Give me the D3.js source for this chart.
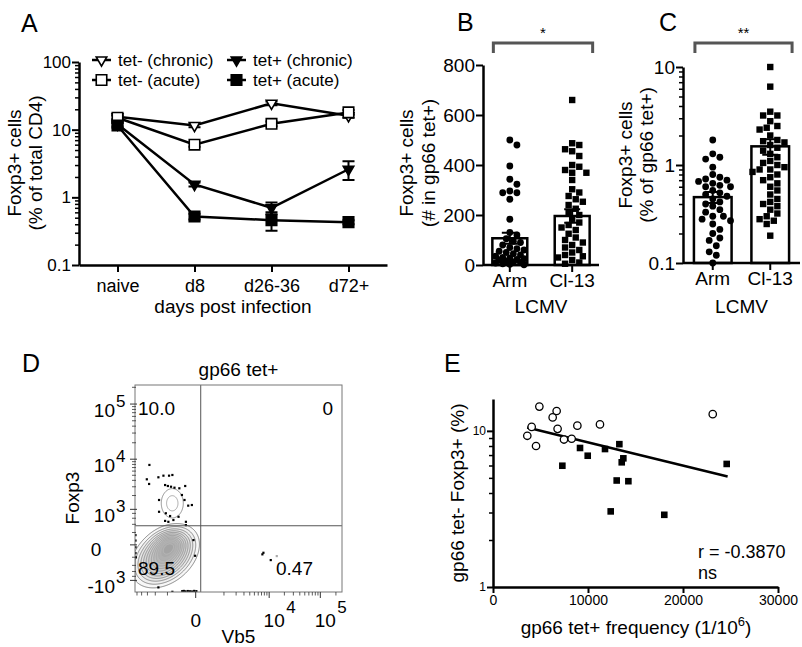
<!DOCTYPE html>
<html><head><meta charset="utf-8">
<script src="https://cdn.jsdelivr.net/npm/d3@7"></script>
<style>
body{margin:0;background:#fff}
svg{display:block;font-family:"Liberation Sans",Arial,Helvetica,sans-serif}
</style></head><body>
<svg id="c" width="802" height="647"></svg>
<script>
// ================= DATA =================
// Panel A
const aCategories = ["naive","d8","d26-36","d72+"];
const aSeriesNames = ["tet- (chronic)","tet- (acute)","tet+ (chronic)","tet+ (acute)"];
const aTetNegChronic = [15.5, 11.5, 24.5, 16];
const aTetNegAcute   = [15, 6.0, 12.2, 18];
const aTetPosChronic = [12, 1.55, 0.70, 2.6];
const aTetPosAcute   = [11.5, 0.52, 0.46, 0.43];
const aSemTetNegChronic = [1.0, 0.6, 1.5, 1.0];
const aSemTetNegAcute   = [1.0, 0.4, 1.0, 1.5];
const aSemTetPosChronic = [0.8, 0.1, 0.14, 0.8];
const aSemTetPosAcute   = [0.8, 0.05, 0.14, 0.03];
const aYTicks = [0.1, 1, 10, 100];

// Panel B
const bGroups = ["Arm","Cl-13"];
const bMeans = [107, 196];
const bSem = [22, 27];
const bArm = [500,480,396,343,323,296,289,289,263,183,130,120,105,95,90,80,70,65,60,55,50,45,40,35,30,28,25,22,20,15,12,10,8,5,3,1];
const bCl13 = [660,487,480,463,455,436,400,393,380,369,369,340,303,290,276,263,253,240,225,210,200,185,170,160,150,140,125,110,100,90,80,70,60,50,40,35,30,20,10,5];
const bYTicks = [0,200,400,600,800];

// Panel C
const cGroups = ["Arm","Cl-13"];
const cMeans = [0.47, 1.55];
const cSem = [0.06, 0.28];
const cArm = [1.8,1.3,1.15,1.2,0.95,0.8,0.75,0.72,0.7,0.68,0.65,0.62,0.6,0.6,0.55,0.52,0.5,0.48,0.45,0.42,0.4,0.38,0.35,0.33,0.3,0.3,0.28,0.27,0.25,0.22,0.2,0.18,0.17,0.15,0.13,0.12,0.1];
const cCl13 = [10,6.3,3.5,3.2,3.2,2.8,2.5,2.4,2.3,2.0,1.8,1.75,1.7,1.6,1.5,1.4,1.3,1.2,1.1,1.05,1.0,0.95,0.9,0.9,0.85,0.8,0.75,0.7,0.65,0.6,0.55,0.5,0.45,0.42,0.4,0.38,0.35,0.32,0.3,0.28,0.27,0.25,0.19];
const cYTicks = [0.1, 1, 10];

// Panel D (flow cytometry: Vb5 vs Foxp3)
const dTitle = "gp66 tet+";
const dQuadrants = ["10.0","0","89.5","0.47"];
const dGate = {vb5: 100, foxp3: 360};
const dYTicks = [{v:100000,e:"5"},{v:10000,e:"4"},{v:1000,e:"3"},{v:0,e:null},{v:-1000,e:"3",neg:true}];
const dXTicks = [{v:0,e:null},{v:10000,e:"4"},{v:100000,e:"5"}];
const dPopMain = [
  {vb5:-1160, foxp3:-175, sx:0.6, sy:0.52, rho:0.35, w:1.0},
  {vb5:-850,  foxp3:0,    sx:0.38, sy:0.28, rho:0.2,  w:0.6}
];
const dPopSmall = [{vb5:-730, foxp3:1370, sx:0.25, sy:0.31, rho:0.0, w:1.0}];
const dMainLevels = [0.03,0.06,0.1,0.15,0.21,0.28,0.36,0.45,0.54,0.63,0.72,0.81,0.9];
const dSmallLevels = [0.15,0.6];
const dEventsVb5 = [-2730,-3110,-2770,-1700,-1280,-910,-730,-1160,-980,-800,-630,-430,-240,-1640,-1640,-1110,-850,-340,-260,-160,-76,-1160,-950,-680,-220,-220,-460,7620,7260,10700,-44,-12,-1700,-730,-330,-280,-230,-170,-115,-70,-30,10,-5400,-5400,-5400,-5400,-5300];
const dEventsFoxp3 = [7860,4210,3420,4600,4940,4940,5090,3260,3120,3020,2890,2810,3120,1620,880,810,690,2060,1620,1220,1260,510,480,540,480,380,660,-114,-142,-260,67,-169,-1430,-1775,-1720,-1700,-1740,-1710,-1730,-1750,-1700,-1720,150,60,-30,-120,-200];
const dGreyEventsVb5 = [14100];
const dGreyEventsFoxp3 = [-175];

// Panel E
const eOpenX = [3610,4070,4530,4880,6280,6700,6800,7470,8280,8880,11260,23130];
const eOpenY = [9.3,10.6,8.0,14.3,12.2,13.4,10.3,8.8,8.9,10.8,11.0,12.8];
const eFilledX = [7300,9160,9970,11790,13300,13720,13550,13020,14250,12390,18030,24600];
const eFilledY = [5.98,7.77,6.93,7.65,8.22,6.67,6.29,4.81,4.76,3.05,2.90,6.14];
const eFitX = [3600, 24700];
const eFitY = [10.5, 5.1];
const eXTicks = [0,10000,20000,30000];
const eYTicks = [1,10];
const eStats = ["r = -0.3870","ns"];

// ================= DRAW =================
const svg = d3.select("#c");
const AX = 2.5;

function styleAxis(g, fs){
  g.selectAll("path.domain").attr("stroke","#000").attr("stroke-width",AX);
  g.selectAll(".tick line").attr("stroke","#000").attr("stroke-width",2);
  g.selectAll(".tick text").attr("font-size",fs).attr("fill","#000").attr("font-family","Liberation Sans, Arial, sans-serif");
}
function minorLog(lo, hi){
  const out=[];
  for(let e=Math.floor(Math.log10(lo)); e<Math.log10(hi); e++){
    for(let m=2;m<=9;m++){const v=m*Math.pow(10,e); if(v>lo && v<hi) out.push(v);}
  }
  return out;
}
function panelLabel(t,x,y){
  svg.append("text").attr("x",x).attr("y",y).attr("font-size",25).text(t);
}
function rotLabel(t,x,y,fs){
  svg.append("text").attr("transform",`translate(${x},${y}) rotate(-90)`).attr("text-anchor","middle").attr("font-size",fs).text(t);
}

// ---------- Panel A ----------
panelLabel("A",21,32);
const xA = d3.scalePoint().domain(aCategories).range([79,387]).padding(0.5);
const yA = d3.scaleLog().domain([0.1,100]).range([265,62]);
{
  const gy = svg.append("g").attr("transform","translate(79,0)")
    .call(d3.axisLeft(yA).tickValues(aYTicks).tickFormat(d=>String(d)).tickSize(7).tickSizeOuter(0));
  styleAxis(gy,17);
  gy.selectAll(".tick text").attr("x",-8);
  svg.append("g").attr("transform","translate(79,0)")
    .call(d3.axisLeft(yA).tickValues(minorLog(0.1,100)).tickFormat("").tickSize(4).tickSizeOuter(0))
    .call(g=>{g.select(".domain").remove(); g.selectAll("line").attr("stroke","#000").attr("stroke-width",1.5);});
  const gx = svg.append("g").attr("transform","translate(0,265)")
    .call(d3.axisBottom(xA).tickSize(7).tickSizeOuter(0));
  styleAxis(gx,18);
  gx.selectAll(".tick text").attr("dy","0.95em");
  svg.append("text").attr("x",233).attr("y",313).attr("text-anchor","middle").attr("font-size",19).text("days post infection");
  rotLabel("Foxp3+ cells",21,163,19);
  rotLabel("(% of total CD4)",42,163,19);

  const series = [
    {name:aSeriesNames[0], v:aTetNegChronic, s:aSemTetNegChronic, sym:"tri", fill:"#fff"},
    {name:aSeriesNames[1], v:aTetNegAcute,   s:aSemTetNegAcute,   sym:"sq",  fill:"#fff"},
    {name:aSeriesNames[2], v:aTetPosChronic, s:aSemTetPosChronic, sym:"tri", fill:"#000"},
    {name:aSeriesNames[3], v:aTetPosAcute,   s:aSemTetPosAcute,   sym:"sq",  fill:"#000"}
  ];
  const symPath = (sym)=> sym==="tri" ? d3.symbol(d3.symbolTriangle,48)() : d3.symbol(d3.symbolSquare,110)();
  const line = d3.line().x((d,i)=>xA(aCategories[i])).y(d=>yA(d));
  series.forEach(s=>{
    svg.append("path").attr("d",line(s.v)).attr("fill","none").attr("stroke","#000").attr("stroke-width",2.5);
    s.v.forEach((v,i)=>{
      const x=xA(aCategories[i]);
      const y1=yA(v+s.s[i]), y0=yA(Math.max(v-s.s[i],0.101));
      svg.append("path").attr("d",`M${x},${y0}V${y1}M${x-6},${y0}H${x+6}M${x-6},${y1}H${x+6}`).attr("stroke","#000").attr("stroke-width",2).attr("fill","none");
    });
  });
  series.forEach(s=>{
    s.v.forEach((v,i)=>{
      svg.append("path").attr("d",symPath(s.sym))
        .attr("transform",`translate(${xA(aCategories[i])},${yA(v)})${s.sym==="tri"?" rotate(180)":""}`)
        .attr("fill",s.fill).attr("stroke","#000").attr("stroke-width",1.6);
    });
  });
  const lg = [{x:92,y:60},{x:92,y:80},{x:227,y:60},{x:227,y:80}];
  series.forEach((s,i)=>{
    const p=lg[i];
    svg.append("line").attr("x1",p.x).attr("x2",p.x+19).attr("y1",p.y).attr("y2",p.y).attr("stroke","#000").attr("stroke-width",2.5);
    svg.append("path").attr("d",symPath(s.sym))
      .attr("transform",`translate(${p.x+9.5},${p.y})${s.sym==="tri"?" rotate(180)":""}`)
      .attr("fill",s.fill).attr("stroke","#000").attr("stroke-width",1.6);
    svg.append("text").attr("x",p.x+26).attr("y",p.y+6).attr("font-size",17).text(s.name);
  });
}

// ---------- swarm helper (bounded beeswarm) ----------
function swarm(vals, ys, r, maxHalf){
  const pts = vals.map(v=>({v, y:ys(v), x:0})).sort((a,b)=>d3.descending(a.v,b.v));
  const placed=[]; const d=2*r+0.5;
  const cands=[0]; for(let k=1;k*d*0.5<=maxHalf;k++){cands.push(k*d*0.5,-k*d*0.5);}
  for(const p of pts){
    let best=0, bestD=-1, found=false;
    for(const off of cands){
      const md = placed.length? d3.min(placed,q=>Math.hypot(q.x-off,q.y-p.y)) : Infinity;
      if(md>=d){p.x=off; found=true; break;}
      if(md>bestD){bestD=md; best=off;}
    }
    if(!found) p.x=best;
    placed.push(p);
  }
  return pts;
}

function barPanel(opt){
  const {x0,x1,y,groups,means,sem,data,ticks,tickFmt,minor,pi,po} = opt;
  const xb = d3.scaleBand().domain(groups).range([x0,x1]).paddingInner(pi).paddingOuter(po);
  const bw = xb.bandwidth();
  groups.forEach((g,i)=>{
    const cx = xb(g)+bw/2;
    svg.append("rect").attr("x",xb(g)).attr("y",y(means[i])).attr("width",bw).attr("height",y.range()[0]-y(means[i]))
      .attr("fill","#fff").attr("stroke","#000").attr("stroke-width",2.5);
    const pts = swarm(data[i], y, 3.3, bw/2-1);
    pts.forEach(p=>{
      if(i===0) svg.append("circle").attr("cx",cx+p.x).attr("cy",p.y).attr("r",3.4).attr("fill","#000");
      else svg.append("rect").attr("x",cx+p.x-3.2).attr("y",p.y-3.2).attr("width",6.4).attr("height",6.4).attr("fill","#000");
    });
    const yt=y(means[i]+sem[i]), yb=y(means[i]-sem[i]);
    svg.append("path").attr("d",`M${cx},${yb}V${yt}M${cx-8},${yt}H${cx+8}M${cx-8},${yb}H${cx+8}`)
      .attr("stroke","#000").attr("stroke-width",2).attr("fill","none");
  });
  const gy = svg.append("g").attr("transform",`translate(${x0},0)`)
    .call(d3.axisLeft(y).tickValues(ticks).tickFormat(tickFmt).tickSize(7).tickSizeOuter(0));
  styleAxis(gy,19);
  gy.selectAll(".tick text").attr("x",-8);
  if(minor){
    svg.append("g").attr("transform",`translate(${x0},0)`)
      .call(d3.axisLeft(y).tickValues(minor).tickFormat("").tickSize(4).tickSizeOuter(0))
      .call(g=>{g.select(".domain").remove(); g.selectAll("line").attr("stroke","#000").attr("stroke-width",1.5);});
  }
  const xc = d3.scalePoint().domain(groups).range([xb(groups[0])+bw/2, xb(groups[1])+bw/2]);
  svg.append("line").attr("x1",x0).attr("x2",x1).attr("y1",y.range()[0]).attr("y2",y.range()[0]).attr("stroke","#000").attr("stroke-width",AX);
  groups.forEach(g=>{
    svg.append("line").attr("x1",xc(g)).attr("x2",xc(g)).attr("y1",y.range()[0]).attr("y2",y.range()[0]+7).attr("stroke","#000").attr("stroke-width",2);
    svg.append("text").attr("x",xc(g)).attr("y",y.range()[0]+22).attr("text-anchor","middle").attr("font-size",19).text(g);
  });
  svg.append("text").attr("x",(xc(groups[0])+xc(groups[1]))/2).attr("y",313).attr("text-anchor","middle").attr("font-size",19).text("LCMV");
  const bx0 = xb(groups[0])+1, bx1 = xb(groups[1])+bw+3;
  svg.append("path").attr("d",`M${bx0},53V43H${bx1}V53`).attr("fill","none").attr("stroke","#555").attr("stroke-width",3);
  svg.append("text").attr("x",(bx0+bx1)/2).attr("y",38).attr("text-anchor","middle").attr("font-size",15).text(opt.star);
}

// ---------- Panel B ----------
panelLabel("B",457,31);
barPanel({x0:483,x1:599,y:d3.scaleLinear().domain([0,800]).range([265,65]),groups:bGroups,means:bMeans,sem:bSem,
  data:[bArm,bCl13],ticks:bYTicks,tickFmt:d=>String(d),minor:null,pi:0.44,po:0.15,star:"*"});
rotLabel("Foxp3+ cells",413,163,19);
rotLabel("(# in gp66 tet+)",435,163,19);

// ---------- Panel C ----------
panelLabel("C",659,31);
barPanel({x0:683,x1:800,y:d3.scaleLog().domain([0.1,10]).range([263,67]),groups:cGroups,means:cMeans,sem:cSem,
  data:[cArm,cCl13],ticks:cYTicks,tickFmt:d=>String(d),minor:minorLog(0.1,10),pi:0.345,po:0.19,star:"**"});
rotLabel("Foxp3+ cells",632,155,19);
rotLabel("(% of gp66 tet+)",653,155,19);

// ---------- Panel D ----------
panelLabel("D",22,372);
{
  const CX=400, CY=300;
  const xD = d3.scaleSymlog().constant(CX).domain([-5500,262144]).range([135,342]);
  const yD = d3.scaleSymlog().constant(CY).domain([-1800,220000]).range([592,385]);
  const tx = v=>Math.sign(v)*Math.log1p(Math.abs(v)/CX);
  const ty = v=>Math.sign(v)*Math.log1p(Math.abs(v)/CY);
  const L=135,T=385,W=207,H=207;
  svg.append("defs").append("clipPath").attr("id","dclip").append("rect").attr("x",L).attr("y",T).attr("width",W).attr("height",H);
  function grid(pops){
    const vals = new Float64Array(W*H);
    for(let j=0;j<H;j++){
      const uy = ty(yD.invert(T+j+0.5));
      for(let i=0;i<W;i++){
        const ux = tx(xD.invert(L+i+0.5));
        let s=0;
        for(const p of pops){
          const dx=(ux-tx(p.vb5))/p.sx, dy=(uy-ty(p.foxp3))/p.sy;
          const q=(dx*dx-2*p.rho*dx*dy+dy*dy)/(1-p.rho*p.rho);
          s+=p.w*Math.exp(-0.5*q);
        }
        vals[j*W+i]=s;
      }
    }
    return vals;
  }
  const path = d3.geoPath(d3.geoIdentity().translate([L,T]));
  const gC = svg.append("g").attr("clip-path","url(#dclip)");
  const drawC = (pops, levels, c0, c1, fillOp)=>{
    const v = grid(pops); const mx = d3.max(v);
    const cs = d3.contours().size([W,H]).thresholds(levels.map(f=>f*mx))(Array.from(v));
    cs.forEach((c,i)=>{
      gC.append("path").attr("d",path(c)).attr("fill","#000").attr("fill-opacity",fillOp)
        .attr("stroke",d3.interpolateRgb(c0,c1)(i/Math.max(1,cs.length-1))).attr("stroke-width",0.7);
    });
  };
  drawC(dPopMain, dMainLevels, "#555", "#bbb", 0.03);
  drawC(dPopSmall, dSmallLevels, "#666", "#888", 0);
  dEventsVb5.forEach((v,i)=>{
    gC.append("rect").attr("x",xD(v)-1).attr("y",yD(dEventsFoxp3[i])-1).attr("width",2.2).attr("height",2.2).attr("fill","#000");
  });
  dGreyEventsVb5.forEach((v,i)=>{
    gC.append("rect").attr("x",xD(v)-1).attr("y",yD(dGreyEventsFoxp3[i])-1).attr("width",2.2).attr("height",2.2).attr("fill","#aaa");
  });
  svg.append("line").attr("x1",xD(dGate.vb5)).attr("x2",xD(dGate.vb5)).attr("y1",T).attr("y2",T+H).attr("stroke","#555").attr("stroke-width",1);
  svg.append("line").attr("x1",L).attr("x2",L+W).attr("y1",yD(dGate.foxp3)).attr("y2",yD(dGate.foxp3)).attr("stroke","#555").attr("stroke-width",1);
  svg.append("rect").attr("x",L).attr("y",T).attr("width",W).attr("height",H).attr("fill","none").attr("stroke","#777").attr("stroke-width",1);
  const yMinor = [-800,-600,-400,-200,200,400,600,800].concat(d3.range(2000,10000,1000),d3.range(20000,100000,10000),[200000]);
  const xMinor = [-5000,-4000,-3000,-2000,-1000,1000,2000,3000,4000,5000,6000,7000,8000,9000].concat(d3.range(20000,100000,10000),[200000]);
  yMinor.forEach(v=>svg.append("line").attr("x1",L-3).attr("x2",L+1).attr("y1",yD(v)).attr("y2",yD(v)).attr("stroke","#333").attr("stroke-width",0.8));
  xMinor.forEach(v=>svg.append("line").attr("y1",T+H).attr("y2",T+H+3.5).attr("x1",xD(v)).attr("x2",xD(v)).attr("stroke","#333").attr("stroke-width",0.8));
  dYTicks.forEach(t=>{
    svg.append("line").attr("x1",L-5).attr("x2",L+2).attr("y1",yD(t.v)).attr("y2",yD(t.v)).attr("stroke","#333").attr("stroke-width",1);
    if(t.e){
      svg.append("text").attr("x",115).attr("y",yD(t.v)+13).attr("text-anchor","end").attr("font-size",19).text(t.neg?"-10":"10");
      svg.append("text").attr("x",116).attr("y",yD(t.v)+3).attr("font-size",17).text(t.e);
    } else {
      svg.append("text").attr("x",96).attr("y",yD(t.v)+11).attr("text-anchor","middle").attr("font-size",19).text("0");
    }
  });
  dXTicks.forEach(t=>{
    svg.append("line").attr("y1",T+H).attr("y2",T+H+6).attr("x1",xD(t.v)).attr("x2",xD(t.v)).attr("stroke","#333").attr("stroke-width",1);
    if(t.e){
      svg.append("text").attr("x",xD(t.v)+5).attr("y",627).attr("text-anchor","middle").attr("font-size",19).text("10");
      svg.append("text").attr("x",xD(t.v)+17).attr("y",613).attr("font-size",17).text(t.e);
    } else {
      svg.append("text").attr("x",xD(t.v)).attr("y",627).attr("text-anchor","middle").attr("font-size",19).text("0");
    }
  });
  svg.append("text").attr("x",L+W/2).attr("y",643).attr("text-anchor","middle").attr("font-size",19).text("Vb5");
  rotLabel("Foxp3",79,498,19);
  svg.append("text").attr("x",L+W/2).attr("y",376).attr("text-anchor","middle").attr("font-size",19).text(dTitle);
  svg.append("text").attr("x",138).attr("y",415).attr("font-size",19).text(dQuadrants[0]);
  svg.append("text").attr("x",333).attr("y",415).attr("text-anchor","end").attr("font-size",19).text(dQuadrants[1]);
  svg.append("text").attr("x",138).attr("y",575).attr("font-size",19).text(dQuadrants[2]);
  svg.append("text").attr("x",313).attr("y",575).attr("text-anchor","end").attr("font-size",19).text(dQuadrants[3]);
}

// ---------- Panel E ----------
panelLabel("E",444,372);
{
  const xE = d3.scaleLinear().domain([0,30000]).range([493,778]);
  const yE = d3.scaleLog().domain([1,16]).range([587,399]);
  const gy = svg.append("g").attr("transform","translate(493,0)")
    .call(d3.axisLeft(yE).tickValues(eYTicks).tickFormat(d=>String(d)).tickSize(6).tickSizeOuter(0));
  styleAxis(gy,12);
  gy.selectAll(".tick text").attr("x",-7);
  svg.append("g").attr("transform","translate(493,0)")
    .call(d3.axisLeft(yE).tickValues(minorLog(1,10)).tickFormat("").tickSize(4).tickSizeOuter(0))
    .call(g=>{g.select(".domain").remove(); g.selectAll("line").attr("stroke","#000").attr("stroke-width",1.5);});
  const gx = svg.append("g").attr("transform","translate(0,587)")
    .call(d3.axisBottom(xE).tickValues(eXTicks).tickFormat(d=>String(d)).tickSize(6).tickSizeOuter(0));
  styleAxis(gx,14);
  gx.selectAll(".tick text").attr("dy","0.65em");
  svg.append("line").attr("x1",xE(eFitX[0])).attr("x2",xE(eFitX[1])).attr("y1",yE(eFitY[0])).attr("y2",yE(eFitY[1])).attr("stroke","#000").attr("stroke-width",2.5);
  eOpenX.forEach((v,i)=>svg.append("circle").attr("cx",xE(v)).attr("cy",yE(eOpenY[i])).attr("r",3.7).attr("fill","#fff").attr("stroke","#000").attr("stroke-width",1.3));
  eFilledX.forEach((v,i)=>svg.append("rect").attr("x",xE(v)-3.3).attr("y",yE(eFilledY[i])-3.3).attr("width",6.6).attr("height",6.6).attr("fill","#000"));
  svg.append("text").attr("x",698).attr("y",558).attr("font-size",18).text(eStats[0]);
  svg.append("text").attr("x",698).attr("y",579).attr("font-size",18).text(eStats[1]);
  rotLabel("gp66 tet- Foxp3+ (%)",464,493,19);
  const xl = svg.append("text").attr("x",636).attr("y",634).attr("text-anchor","middle").attr("font-size",19);
  xl.append("tspan").text("gp66 tet+ frequency (1/10");
  xl.append("tspan").attr("font-size",13).attr("dy",-8).text("6");
  xl.append("tspan").attr("dy",8).text(")");
}
</script></body></html>
